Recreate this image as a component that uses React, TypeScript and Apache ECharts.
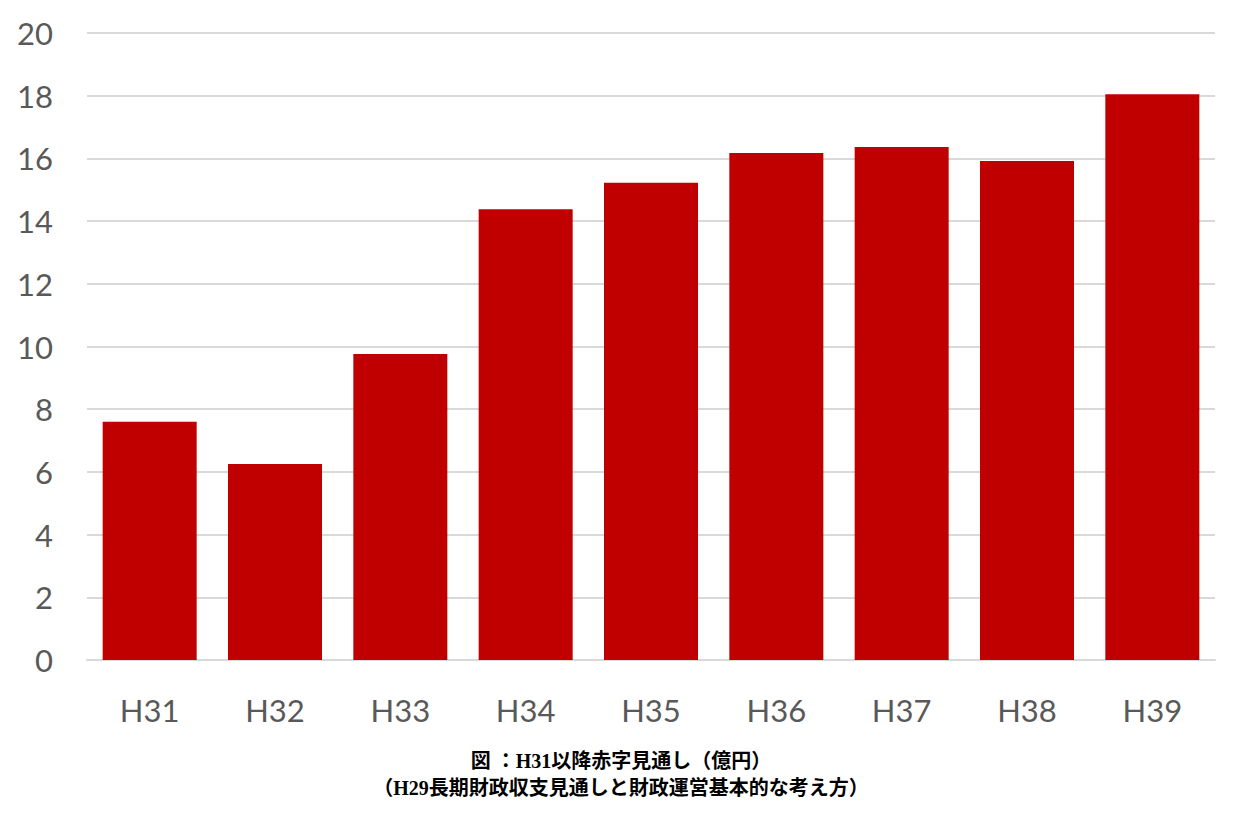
import React, { useEffect, useRef } from "react";
import * as echarts from "echarts";

const categories = ["H31", "H32", "H33", "H34", "H35", "H36", "H37", "H38", "H39"];
const deficits = [7.6, 6.25, 9.76, 14.38, 15.22, 16.17, 16.36, 15.92, 18.05];
const captionLines = ["図 ：H31以降赤字見通し（億円）", "（H29長期財政収支見通しと財政運営基本的な考え方）"];

export default function App() {
  const ref = useRef<HTMLDivElement>(null);
  useEffect(() => {
    document.body.style.margin = "0";
    const chart = echarts.init(ref.current!, null, { renderer: "svg" });
    chart.setOption({
      animation: false,
      backgroundColor: "#ffffff",
      graphic: captionLines.map((line, i) => ({
        type: "text",
        x: 621,
        y: 761 + i * 27,
        style: {
          text: line,
          textAlign: "center",
          textVerticalAlign: "middle",
          fontFamily: "'Liberation Serif', 'Noto Sans CJK JP', serif",
          fontWeight: "bold",
          fontSize: 20,
          fill: "#000000",
        },
      })),
      grid: { left: 87, right: 24, top: 33, bottom: 155, containLabel: false },
      xAxis: {
        type: "category",
        data: categories,
        axisLine: { show: true, lineStyle: { color: "#d9d9d9", width: 2 } },
        axisTick: { show: false },
        axisLabel: { color: "#595959", fontSize: 31, fontFamily: "Lato, 'Open Sans', sans-serif", margin: 34 },
      },
      yAxis: {
        type: "value",
        min: 0,
        max: 20,
        interval: 2,
        axisLine: { show: false },
        axisTick: { show: false },
        splitLine: { lineStyle: { color: "#d9d9d9", width: 2 } },
        axisLabel: { color: "#595959", fontSize: 31, fontFamily: "Lato, 'Open Sans', sans-serif", margin: 34 },
      },
      series: [
        {
          type: "bar",
          data: deficits,
          barWidth: "75%",
          itemStyle: { color: "#c00000" },
        },
      ],
    });
    return () => chart.dispose();
  }, []);
  return <div ref={ref} style={{ position: "absolute", left: 0, top: 0, width: 1239, height: 815 }} />;
}
